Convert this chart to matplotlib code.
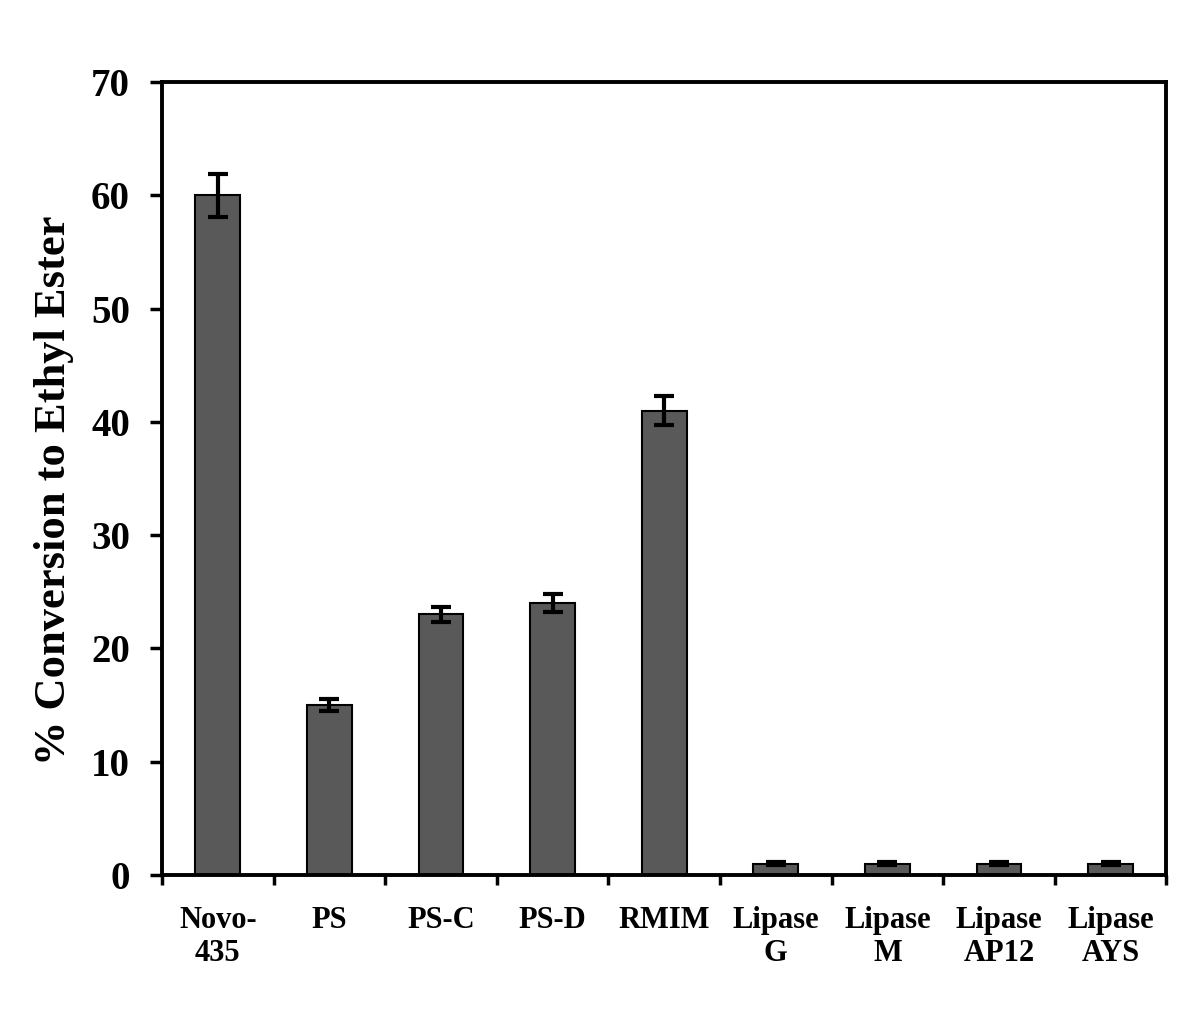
import numpy as np
import matplotlib.pyplot as plt

# Lipase screening - conversion to ethyl ester
enzimas = ['Novo-\n435', 'PS', 'PS-C', 'PS-D', 'RMIM',
           'Lipase\nG', 'Lipase\nM', 'Lipase\nAP12', 'Lipase\nAYS']
conversao = [60, 15, 23, 24, 41, 1, 1, 1, 1]
erro = [1.9, 0.5, 0.7, 0.8, 1.3, 0.15, 0.15, 0.15, 0.15]

plt.rcParams['font.family'] = ['Liberation Serif', 'DejaVu Serif']
plt.rcParams['font.weight'] = 'bold'

fig = plt.figure(figsize=(12, 10.19), dpi=100)
ax = fig.add_axes([0.135, 0.1413, 0.837, 0.7782])

x = np.arange(len(enzimas))
ax.bar(x, conversao, width=0.4, color='#595959', edgecolor='black', linewidth=1.5,
       yerr=erro, error_kw=dict(ecolor='black', elinewidth=3, capsize=7, capthick=3))

ax.set_xlim(-0.5, len(enzimas) - 0.5)
ax.set_ylim(0, 70)
ax.set_yticks(range(0, 71, 10))
ax.tick_params(axis='y', labelsize=28, direction='out', length=9, width=2.5, pad=14)

# ticks nas fronteiras entre categorias
ax.set_xticks(np.arange(-0.5, len(enzimas), 1))
ax.set_xticklabels([])
ax.set_xticks(x, minor=True)
ax.set_xticklabels(enzimas, minor=True, fontsize=22, fontweight='bold', linespacing=1.2)
ax.tick_params(axis='x', which='major', direction='out', length=7, width=2.5)
ax.tick_params(axis='x', which='minor', length=0, pad=22)

for s in ax.spines.values():
    s.set_linewidth(2.8)

ax.set_ylabel('% Conversion to Ethyl Ester', fontsize=32, fontweight='bold')
ax.yaxis.set_label_coords(-0.088, 0.485)

fig.savefig('out.png', dpi=100)
